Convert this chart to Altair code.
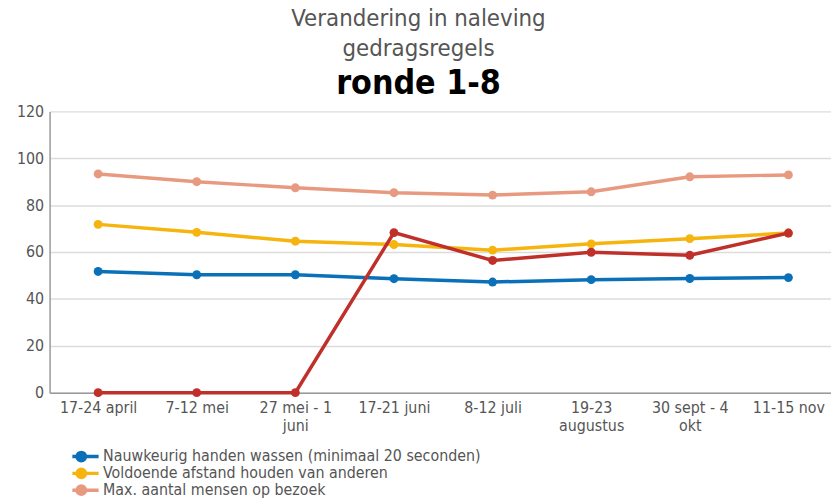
import json
import altair as alt
import pandas as pd

rounds = ["17-24 april", "7-12 mei", "27 mei - 1\njuni", "17-21 juni", "8-12 juli",
          "19-23\naugustus", "30 sept - 4\nokt", "11-15 nov"]
series_names = [
    "Nauwkeurig handen wassen (minimaal 20 seconden)",
    "Voldoende afstand houden van anderen",
    "Max. aantal mensen op bezoek",
    "Reeks 4",
]
handen = [51.7, 50.3, 50.3, 48.6, 47.2, 48.2, 48.7, 49.1]
afstand = [71.8, 68.4, 64.6, 63.2, 60.8, 63.5, 65.7, 68.1]
bezoek = [93.3, 90.0, 87.4, 85.3, 84.3, 85.7, 92.1, 92.9]
reeks4 = [0, 0, 0, 68.3, 56.4, 59.9, 58.6, 68.1]
colors = ["#0a70b8", "#f6b40e", "#e89a80", "#c0302a"]

rows = []
for name, vals in zip(series_names, [handen, afstand, bezoek, reeks4]):
    for i, v in enumerate(vals):
        rows.append({"idx": i, "reeks": name, "waarde": v})
df = pd.DataFrame(rows)

FONT = "DejaVu Sans Condensed"
label_list = json.dumps([r.replace("\n", "|") for r in rounds])
label_expr = f"split({label_list}[datum.value], '|')"

x = alt.X("idx:Q",
          scale=alt.Scale(domain=[-0.4921, 7.4319], nice=False, zero=False),
          axis=alt.Axis(title=None, values=list(range(len(rounds))), labelExpr=label_expr,
                        labelFontSize=16, labelColor="#555", labelFont=FONT,
                        labelLineHeight=18, labelPadding=7, ticks=False,
                        domainColor="#999", domainWidth=1.5, grid=False,
                        labelBaseline="top", labelAlign="center", labelFlush=False,
                        labelOverlap=False))
y = alt.Y("waarde:Q", scale=alt.Scale(domain=[0, 120]),
          axis=alt.Axis(title=None, values=[0, 20, 40, 60, 80, 100, 120],
                        labelFontSize=16, labelColor="#555", labelFont=FONT,
                        ticks=False, labelPadding=6, domainColor="#999", domainWidth=1.5,
                        gridColor="#dcdcdc", gridWidth=1.5))
color = alt.Color("reeks:N",
                  scale=alt.Scale(domain=series_names, range=colors),
                  legend=alt.Legend(title=None, values=series_names[:3], orient="none",
                                    legendX=23, legendY=340,
                                    symbolType="M-2.5,0L2.5,0M0.6,0A0.6,0.6,0,1,1,-0.6,0A0.6,0.6,0,1,1,0.6,0Z",
                                    symbolSize=196, symbolStrokeWidth=3.5,
                                    labelFontSize=16, labelColor="#555", labelFont=FONT,
                                    labelOffset=13, rowPadding=0, clipHeight=17,
                                    labelLimit=600, padding=0))

layers = []
for name in series_names:
    base = alt.Chart(df).transform_filter(alt.datum.reeks == name)
    layers.append(base.mark_line(strokeWidth=3.5).encode(x=x, y=y, color=color))
    layers.append(base.mark_point(filled=True, size=80, opacity=1).encode(x=x, y=y, color=color))

chart = alt.layer(*layers).properties(
    width=789, height=284,
    autosize=alt.AutoSizeParams(type="none"),
    padding={"left": 42, "top": 102, "right": 0, "bottom": 106},
    title=alt.TitleParams(text=["Verandering in naleving", "gedragsregels"],
                          subtitle="ronde 1-8",
                          font=FONT, fontSize=24, fontWeight="normal", color="#555",
                          lineHeight=30,
                          subtitleFont=FONT, subtitleFontSize=34, subtitleFontWeight="bold",
                          subtitleColor="#000", subtitlePadding=6,
                          anchor="middle", dx=-22, offset=3),
).configure_view(stroke=None)

chart.save("out.html", embed_options={"renderer": "svg", "actions": False})
